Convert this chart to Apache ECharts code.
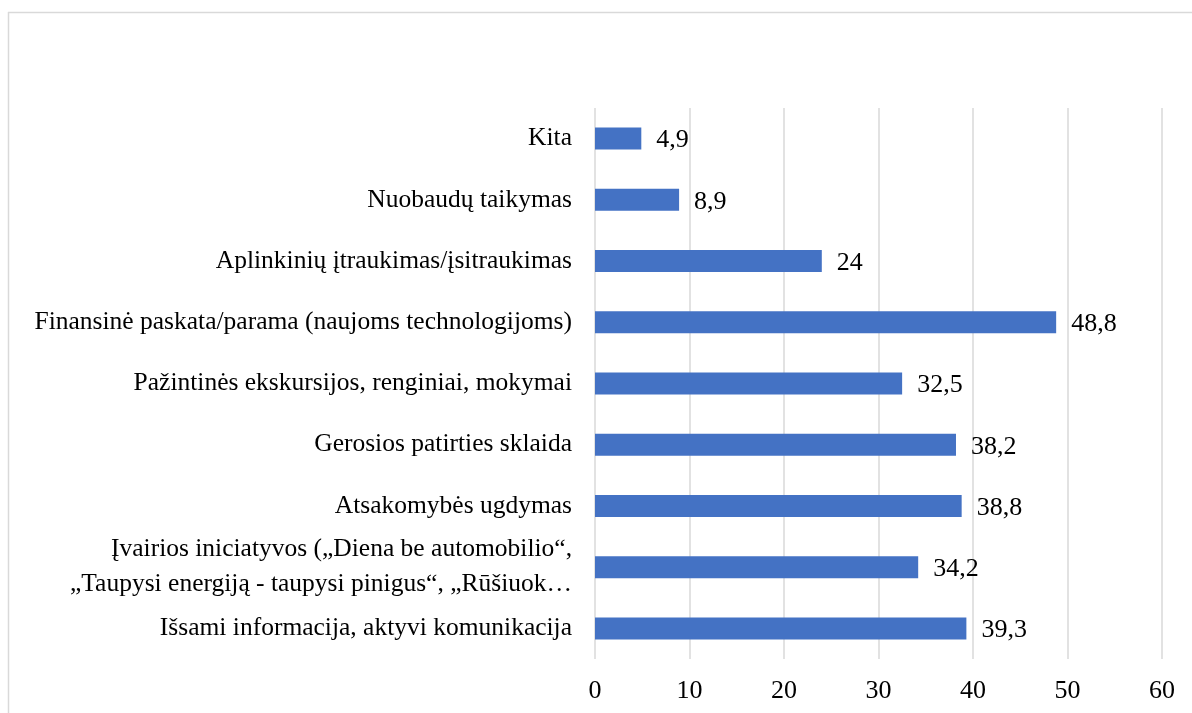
<!DOCTYPE html>
<html>
<head>
<meta charset="utf-8">
<script src="https://cdn.jsdelivr.net/npm/echarts@6/dist/echarts.min.js"></script>
<style>html,body{margin:0;padding:0;background:#fff}#c{width:1192px;height:713px}</style>
</head>
<body>
<div id="c"></div>
<script>
const categories = [
  "Išsami informacija, aktyvi komunikacija",
  "Įvairios iniciatyvos („Diena be automobilio“,\n„Taupysi energiją - taupysi pinigus“, „Rūšiuok…",
  "Atsakomybės ugdymas",
  "Gerosios patirties sklaida",
  "Pažintinės ekskursijos, renginiai, mokymai",
  "Finansinė paskata/parama (naujoms technologijoms)",
  "Aplinkinių įtraukimas/įsitraukimas",
  "Nuobaudų taikymas",
  "Kita"
];
const values = [39.3, 34.2, 38.8, 38.2, 32.5, 48.8, 24, 8.9, 4.9];
const xTicks = { min: 0, max: 60, interval: 10 };

const font = "'Liberation Serif', 'Times New Roman', serif";
const chart = echarts.init(document.getElementById('c'));
chart.setOption({
  animation: false,
  backgroundColor: '#fff',
  graphic: [
    { type: 'line', shape: { x1: 8, y1: 12.5, x2: 1192, y2: 12.5 }, style: { stroke: '#d9d9d9', lineWidth: 1.5 } },
    { type: 'line', shape: { x1: 8.5, y1: 12, x2: 8.5, y2: 713 }, style: { stroke: '#d9d9d9', lineWidth: 1.5 } }
  ],
  grid: { left: 595, right: 30, top: 108, bottom: 54, containLabel: false },
  xAxis: {
    type: 'value', min: xTicks.min, max: xTicks.max, interval: xTicks.interval,
    axisLine: { show: false }, axisTick: { show: false },
    splitLine: { show: true, lineStyle: { color: '#d9d9d9', width: 1.5 } },
    axisLabel: { color: '#000', fontFamily: font, fontSize: 26, margin: 19 }
  },
  yAxis: {
    type: 'category', data: categories,
    axisLine: { show: false }, axisTick: { show: false },
    axisLabel: { color: '#000', fontFamily: font, fontSize: 25.5, margin: 23, align: 'right', lineHeight: 35 }
  },
  series: [{
    type: 'bar', data: values, barWidth: 22,
    itemStyle: { color: '#4472C4' },
    label: {
      show: true, position: 'right', distance: 15, color: '#000',
      fontFamily: font, fontSize: 26, offset: [0, 2],
      formatter: p => String(p.value).replace('.', ',')
    }
  }]
});
</script>
</body>
</html>
